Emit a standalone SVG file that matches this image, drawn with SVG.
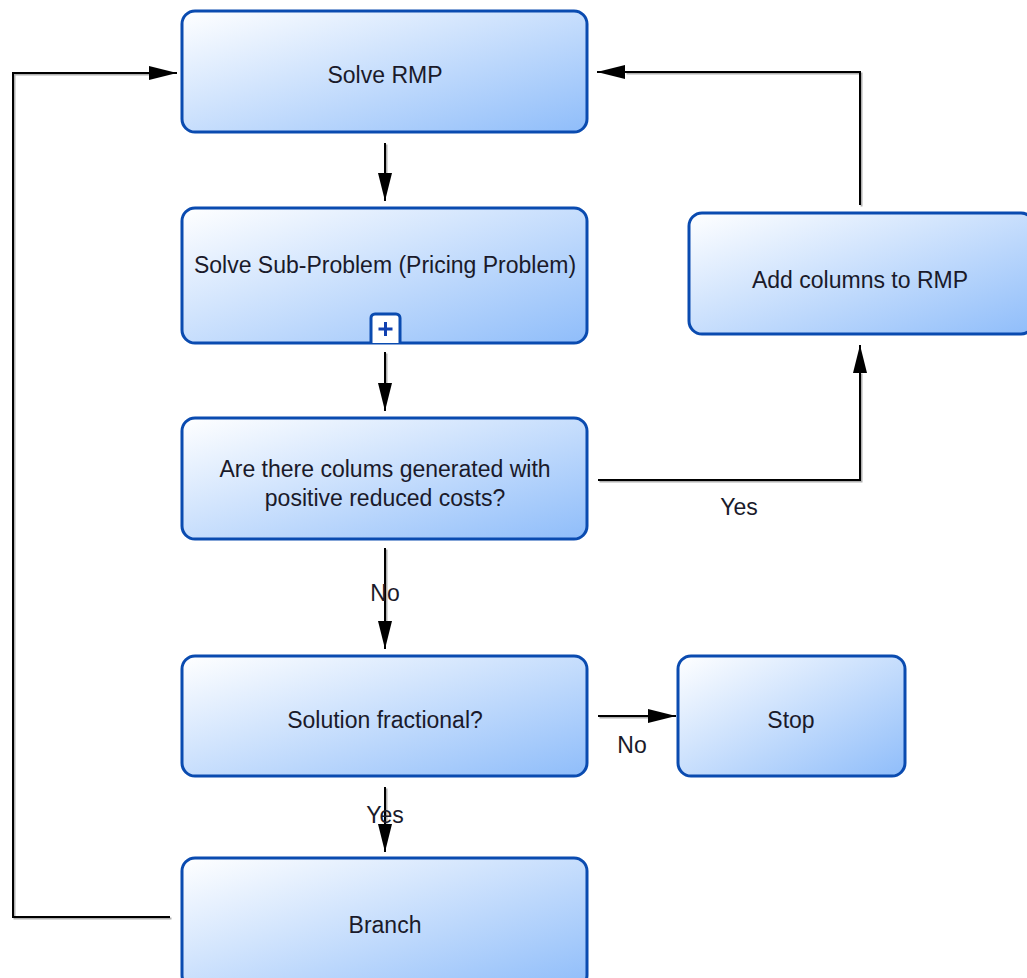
<svg xmlns="http://www.w3.org/2000/svg" width="1027" height="978" viewBox="0 0 1027 978">
<style>
.box{fill:url(#g);stroke:#0a4bb0;stroke-width:3}
.t{font-family:"Liberation Sans",Arial,sans-serif;font-size:23px;fill:#1a1a2a;text-anchor:middle}
.c{fill:none;stroke:#000;stroke-width:2}
.s{fill:none;stroke:#b0b0b0;stroke-width:2}
</style>
<defs>
<linearGradient id="g" x1="0" y1="0" x2="1" y2="1">
<stop offset="0" stop-color="#ffffff"/>
<stop offset="1" stop-color="#8fbdfa"/>
</linearGradient>
<marker id="a" viewBox="0 0 28 14" refX="28" refY="7" markerWidth="28" markerHeight="14" markerUnits="userSpaceOnUse" orient="auto">
<path d="M0,0 L28,7 L0,14 Z" fill="#000"/>
</marker>
</defs>
<rect width="1027" height="978" fill="#fff"/>
<g id="connectors">
<g transform="translate(1.5,1.5)">
<path class="s" d="M170,917 H13 V73 H150"/>
<path class="s" d="M860,205 V72 H625"/>
<path class="s" d="M598,480 H860 V372"/>
<path class="s" d="M385,143 V175"/>
<path class="s" d="M385,352 V382"/>
<path class="s" d="M385,548 V620"/>
<path class="s" d="M385,787 V825"/>
<path class="s" d="M598,716 H648"/>
</g>
<path class="c" d="M170,917 H13 V73 H177" marker-end="url(#a)"/>
<path class="c" d="M860,205 V72 H597" marker-end="url(#a)"/>
<path class="c" d="M598,480 H860 V345" marker-end="url(#a)"/>
<path class="c" d="M385,143 V201" marker-end="url(#a)"/>
<path class="c" d="M385,352 V411" marker-end="url(#a)"/>
<path class="c" d="M385,548 V649" marker-end="url(#a)"/>
<path class="c" d="M385,787 V852" marker-end="url(#a)"/>
<path class="c" d="M598,716 H676" marker-end="url(#a)"/>
<text class="t" x="739" y="515">Yes</text>
<text class="t" x="385" y="601">No</text>
<text class="t" x="632" y="753">No</text>
<text class="t" x="385" y="823">Yes</text>
</g>
<g id="solve-rmp">
<rect class="box" x="182" y="11" width="405" height="121" rx="13"/>
<text class="t" x="385" y="83">Solve RMP</text>
</g>
<g id="sub-problem">
<rect class="box" x="182" y="208" width="405" height="135" rx="13"/>
<text class="t" x="385" y="273">Solve Sub-Problem (Pricing Problem)</text>
<path d="M371,343 V318 a4,4 0 0 1 4,-4 H396 a4,4 0 0 1 4,4 V343" fill="#fff" stroke="#0a4bb0" stroke-width="3"/>
<path d="M378.5,329 H392.5 M385.5,322 V336" stroke="#1040b0" stroke-width="3"/>
</g>
<g id="question">
<rect class="box" x="182" y="418" width="405" height="121" rx="13"/>
<text class="t" x="385" y="477">Are there colums generated with</text>
<text class="t" x="385" y="506">positive reduced costs?</text>
</g>
<g id="add-columns">
<rect class="box" x="689" y="213" width="345" height="121" rx="13"/>
<text class="t" x="860" y="288">Add columns to RMP</text>
</g>
<g id="fractional">
<rect class="box" x="182" y="656" width="405" height="120" rx="13"/>
<text class="t" x="385" y="728">Solution fractional?</text>
</g>
<g id="stop">
<rect class="box" x="678" y="656" width="227" height="120" rx="13"/>
<text class="t" x="791" y="728">Stop</text>
</g>
<g id="branch">
<rect class="box" x="182" y="858" width="405" height="130" rx="13"/>
<text class="t" x="385" y="933">Branch</text>
</g>
</svg>
